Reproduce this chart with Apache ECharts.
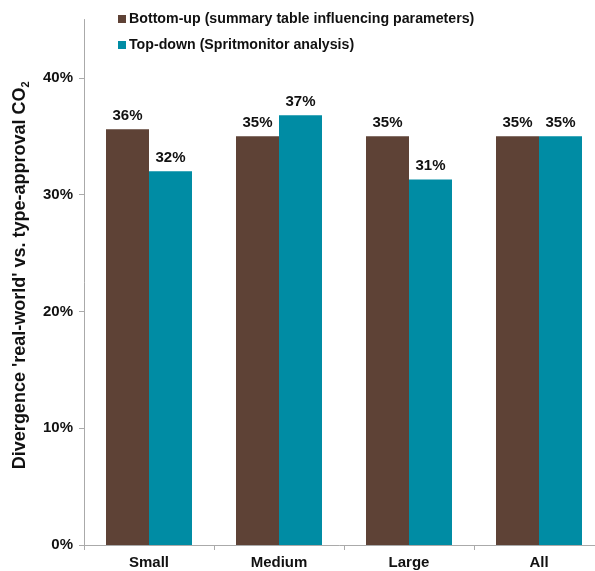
<!DOCTYPE html>
<html>
<head>
<meta charset="utf-8">
<script src="https://cdn.jsdelivr.net/npm/echarts@6/dist/echarts.min.js"></script>
<style>html,body{margin:0;padding:0;background:#fff}#c{width:595px;height:571px}</style>
</head>
<body>
<div id="c"></div>
<script>
const categories = ['Small', 'Medium', 'Large', 'All'];
const bottomUp = [35.6, 35.0, 35.0, 35.0];
const topDown = [32.0, 36.8, 31.3, 35.0];
const yTicks = [0, 10, 20, 30, 40];
const seriesNames = ['Bottom-up (summary table influencing parameters)', 'Top-down (Spritmonitor analysis)'];

const FONT = '"Liberation Sans", Arial, sans-serif';
const chart = echarts.init(document.getElementById('c'));
const labelCfg = {
  show: true, position: 'top', distance: 6,
  fontFamily: FONT, fontWeight: 'bold', fontSize: 15, color: '#111',
  formatter: p => Math.round(p.value) + '%'
};
chart.setOption({
  animation: false,
  textStyle: { fontFamily: FONT },
  legend: {
    orient: 'vertical', left: 113, top: 7, itemWidth: 8, itemHeight: 8, itemGap: 12,
    icon: 'rect',
    textStyle: { fontFamily: FONT, fontWeight: 'bold', fontSize: 14.2, color: '#111', padding: [0, 0, 0, -2] },
    data: seriesNames
  },
  grid: { left: 84, width: 520, top: 19.5, bottom: 26, containLabel: false, outerBoundsMode: 'none' },
  xAxis: {
    type: 'category', data: categories,
    axisLine: { lineStyle: { color: '#aaa', width: 1 } },
    axisTick: { show: true, length: 5, lineStyle: { color: '#aaa' } },
    axisLabel: { fontFamily: FONT, fontWeight: 'bold', fontSize: 15, color: '#111', margin: 10 }
  },
  yAxis: {
    type: 'value', min: 0, max: 45,
    splitLine: { show: false },
    axisLine: { show: true, lineStyle: { color: '#aaa', width: 1 } },
    axisTick: { show: true, length: 5, inside: false, customValues: yTicks, lineStyle: { color: '#aaa' } },
    axisLabel: { customValues: yTicks, formatter: v => v + '%', fontFamily: FONT, fontWeight: 'bold', fontSize: 15, color: '#111', margin: 11 },
    name: "Divergence 'real-world' vs. type-approval CO{sub|2}",
    nameLocation: 'middle', nameRotate: 90, nameGap: 53,
    nameTextStyle: {
      fontFamily: FONT, fontWeight: 'bold', fontSize: 18, color: '#111',
      padding: [0, 0, 0, 14],
      rich: { sub: { fontFamily: FONT, fontWeight: 'bold', fontSize: 11, color: '#111', padding: [10, 0, 0, 0] } }
    }
  },
  series: [
    { name: seriesNames[0], type: 'bar', data: bottomUp, barWidth: 43, barGap: '0%',
      itemStyle: { color: '#5E4236' }, label: labelCfg },
    { name: seriesNames[1], type: 'bar', data: topDown, barWidth: 43, barGap: '0%',
      itemStyle: { color: '#008CA4' }, label: labelCfg }
  ]
});
</script>
</body>
</html>
